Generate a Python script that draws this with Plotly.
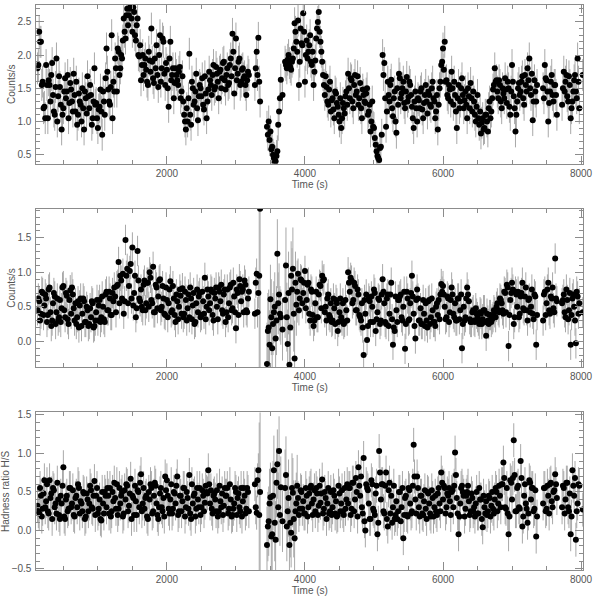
import plotly.graph_objects as go

# time axis: two interleaved sets of bins (A at 125+25k s, B at 137.5+25k s)
time_a = [125 + 25 * i for i in range(320)]
time_b = [137.5 + 25 * i for i in range(320)]

total_rate_a = [
    1.80, 2.35, 2.20, 1.60, 1.22, 1.85, 1.05, 1.55, 1.70, 1.40, 1.10, 1.95, 1.38, 1.52, 0.88, 1.20, 1.65, 1.45, 1.05, 1.58,
    1.30, 1.72, 1.15, 0.95, 1.42, 1.25, 1.50, 0.88, 1.35, 1.68, 1.20, 1.40, 1.05, 1.80, 1.28, 0.90, 1.22, 1.15, 1.45, 1.10,
    2.10, 1.48, 1.25, 2.30, 1.60, 1.95, 1.45, 2.05, 1.80, 1.95, 2.55, 2.25, 2.70, 2.60, 2.75, 2.35, 2.65, 2.22, 2.55, 1.98,
    1.62, 2.00, 1.85, 1.78, 1.55, 1.92, 2.40, 1.65, 1.95, 2.15, 1.52, 2.30, 1.80, 2.20, 1.55, 1.78, 1.22, 2.20, 1.70, 1.35,
    1.80, 1.62, 1.75, 1.35, 1.68, 1.10, 0.88, 1.00, 2.02, 0.95, 1.50, 1.30, 1.72, 1.02, 1.55, 1.38, 1.25, 1.68, 1.05, 1.48,
    1.62, 1.40, 1.85, 1.52, 1.72, 1.35, 1.78, 1.65, 1.90, 1.48, 1.80, 1.58, 1.95, 2.32, 1.42, 2.25, 1.72, 1.95, 1.60, 1.80,
    1.68, 1.40, 1.75, None, None, None, 1.55, 2.05, 2.26, 1.30, None, None, None, 0.92, 1.00, 0.85, 0.62, 0.45, 0.40, 0.55,
    1.15, 1.63, 1.40, None, 1.85, 1.93, 1.88, 1.78, 1.95, 2.48, 2.20, 2.52, 1.90, 2.18, 2.63, 1.60, 2.22, 2.05, 2.30, 1.85,
    1.55, 1.92, 2.40, 2.65, 2.20, 1.90, 1.55, 1.68, 1.30, 1.48, 1.15, 1.35, 1.05, 1.42, 1.22, 1.00, 0.90, 1.28, 1.12, 1.45,
    1.72, 1.35, 1.62, 1.20, 1.70, 1.45, 1.25, 1.58, 1.05, 1.40, 1.28, 1.50, 1.15, 0.85, 1.30, 0.90, 0.65, 0.48, 0.42, 0.62,
    2.00, 1.88, 0.92, 1.60, 1.30, 1.63, 1.08, 1.45, 0.83, 1.25, 1.65, 1.42, 1.60, 1.20, 1.67, 1.37, 1.55, 1.22, 0.90, 1.45,
    1.00, 1.32, 1.45, 1.18, 1.28, 1.55, 1.12, 1.40, 1.22, 1.60, 1.30, 1.15, 0.88, 1.50, 1.85, 2.10, 2.20, 1.62, 1.35, 1.48,
    1.75, 1.25, 1.40, 0.90, 1.55, 1.30, 1.65, 1.20, 1.45, 1.05, 1.38, 1.58, 1.15, 1.30, 1.00, 1.40, 0.95, 0.82, 1.05, 0.90,
    1.10, 0.85, 1.30, 1.15, 1.48, 1.80, 1.62, 1.35, 1.55, 1.20, 1.42, 1.65, 1.28, 1.50, 1.10, 1.85, 1.38, 0.85, 1.30, 1.58,
    1.45, 1.68, 1.25, 1.55, 1.80, 1.95, 1.40, 1.02, 1.62, 1.30, None, None, None, 1.50, 1.85, 1.62, 1.00, 1.45, 1.70, 1.30,
    1.55, 1.10, None, None, 1.25, 1.75, 1.60, 1.38, 1.68, 1.05, 1.30, 1.62, 1.45, 1.95, 1.20, None, 1.70, None, None, None,
]
total_rate_b = [
    1.85, 2.20, 1.55, 1.20, 1.05, 1.55, 1.62, 1.30, 1.88, 1.15, 1.52, 1.00, 1.68, 1.25, 1.10, 1.45, 1.35, 1.70, 1.28, 1.48,
    1.15, 1.40, 1.60, 1.10, 1.30, 1.00, 1.20, 1.45, 1.12, 1.38, 1.55, 0.95, 1.30, 1.25, 1.05, 1.18, 1.48, 0.80, 1.30, 1.65,
    1.75, 1.30, 1.52, 1.05, 1.45, 1.80, 2.10, 1.70, 2.00, 2.22, 2.35, 2.60, 2.45, 2.70, 2.55, 2.72, 2.30, 2.45, 2.00, 2.15,
    1.85, 1.70, 1.95, 1.60, 2.05, 1.75, 1.90, 1.58, 1.80, 1.70, 2.00, 1.60, 2.25, 1.72, 1.88, 1.50, 1.95, 1.62, 1.80, 1.58,
    1.70, 1.55, 1.82, 1.45, 1.30, 1.00, 1.20, 1.35, 1.10, 1.60, 1.25, 1.45, 1.20, 1.38, 1.50, 1.65, 1.18, 1.42, 1.30, 1.75,
    1.55, 1.70, 1.48, 1.82, 1.60, 1.75, 1.50, 1.88, 1.62, 1.70, 1.55, 1.85, 1.68, 2.05, 1.80, 1.62, 1.90, 1.55, 1.78, 1.65,
    1.55, 1.62, 1.70, None, None, None, 1.80, 1.70, 1.60, None, None, None, None, 0.80, 0.72, 0.58, 0.50, 0.38, 0.48, 0.95,
    1.35, None, None, 1.90, 1.80, 2.00, 1.82, 1.90, 2.10, 2.35, 2.05, 1.55, 2.40, 2.15, 2.35, 2.00, 1.95, 2.15, 1.90, 2.05,
    1.75, 2.25, 2.50, 2.35, 2.05, 1.70, 1.40, 1.52, 1.25, 1.60, 1.32, 1.18, 1.45, 1.28, 1.10, 1.35, 1.05, 1.20, 1.38, 1.25,
    1.50, 1.65, 1.30, 1.55, 1.40, 1.68, 1.35, 1.20, 1.48, 1.30, 1.42, 1.10, 1.25, 1.00, 0.92, 0.75, 0.55, 0.45, 0.60, 0.80,
    1.70, 1.35, 1.15, 1.40, 1.55, 1.20, 1.35, 1.00, 1.50, 1.72, 1.35, 1.50, 1.28, 1.45, 1.30, 1.60, 1.40, 1.05, 1.30, 1.20,
    1.35, 1.20, 1.50, 1.05, 1.40, 1.30, 1.45, 1.25, 1.50, 1.35, 1.05, 1.40, 1.25, 1.60, 1.90, 1.78, 1.60, 1.40, 1.55, 1.30,
    1.50, 1.60, 1.15, 1.35, 1.20, 1.50, 1.40, 1.32, 1.25, 1.50, 1.20, 1.35, 1.45, 1.10, 1.22, 1.05, 1.15, 0.98, 0.88, 1.10,
    1.00, 1.20, 1.05, 1.35, 1.55, 1.60, 1.45, 1.62, 1.30, 1.50, 1.35, 1.48, 1.60, 1.22, 1.45, 1.60, 1.20, 1.10, 1.50, 1.40,
    1.60, 1.35, 1.70, 1.45, 1.62, 1.50, 1.72, 1.30, 1.45, 1.55, None, None, None, 1.35, 1.65, 1.45, 1.28, 1.60, 1.40, 1.55,
    1.40, None, None, None, 1.50, 1.45, 1.70, 1.30, 1.55, 1.20, 1.45, 1.70, 1.35, 1.60, None, None, None, None, None, None,
]

hard_rate_a = [
    0.45, 0.58, 0.40, 0.70, 0.52, 0.62, 0.38, 0.78, 0.22, 0.55, 0.65, 0.42, 0.30, 0.60, 0.48, 0.80, 0.35, 0.66, 0.25, 0.74,
    0.78, 0.48, 0.55, 0.35, 0.20, 0.62, 0.40, 0.58, 0.28, 0.45, 0.25, 0.35, 0.55, 0.22, 0.42, 0.30, 0.60, 0.35, 0.50, 0.28,
    0.72, 0.45, 0.62, 0.38, 0.58, 0.65, 0.80, 1.15, 0.95, 0.62, 0.40, 1.47, 1.05, 0.80, 1.12, 1.36, 0.70, 0.35, 1.31, 0.62,
    0.75, 0.45, 0.88, 0.55, 0.85, 1.00, 0.60, 1.08, 0.42, 0.78, 0.65, 0.90, 0.50, 0.62, 0.38, 0.60, 0.55, 0.87, 0.45, 0.62,
    0.28, 0.58, 0.50, 0.66, 0.77, 0.40, 0.60, 0.48, 0.35, 0.62, 0.52, 0.25, 0.55, 0.42, 0.70, 0.38, 0.58, 0.92, 0.50, 0.65,
    0.55, 0.72, 0.30, 0.62, 0.50, 0.78, 0.58, 0.45, 0.68, 0.28, 0.75, 0.55, 0.82, 0.48, 0.65, 0.19, 0.70, 0.90, 0.58, 0.75,
    0.88, 0.45, 0.62, None, None, None, 0.40, 0.98, 0.70, 1.92, None, None, None, -0.33, 0.20, 0.61, -0.10, 0.42, 0.04, 1.27,
    0.68, 0.35, 0.17, None, 1.10, -0.04, -0.34, 0.95, 1.05, -0.25, 0.53, 0.98, 0.62, 0.88, 0.70, 1.02, 0.60, 0.85, 0.30, 0.72,
    0.22, 0.55, 0.35, 0.68, 0.80, 0.95, 0.90, 0.50, 0.62, 0.38, 0.55, 0.30, 0.48, 0.60, 0.15, 0.42, 0.35, 0.55, 0.28, 0.45,
    1.00, 0.72, 0.88, 0.60, 0.80, 0.45, 0.68, 0.35, 0.55, -0.20, 0.40, 0.02, 0.62, 0.28, 0.50, 0.75, 0.15, 0.42, 0.60, 0.30,
    0.90, 0.55, 0.25, 0.68, 0.40, 0.85, -0.05, 0.15, 0.45, 0.60, 0.65, 0.35, 0.50, -0.11, 0.72, 0.30, 0.55, 0.95, 0.40, 0.04,
    0.75, 0.30, 0.48, 0.25, 0.40, 0.55, 0.20, 0.60, 0.35, 0.45, 0.28, 0.50, 0.38, 0.32, 0.83, 0.80, 0.50, 0.35, 0.62, 0.42,
    0.78, 0.40, 0.55, 0.30, 0.62, 0.45, -0.10, 0.50, 0.35, 0.78, 0.58, 0.28, 0.42, 0.30, 0.48, 0.35, 0.25, 0.40, 0.32, 0.45,
    0.08, 0.30, 0.38, 0.28, 0.35, 0.42, 0.50, 0.45, 0.62, 0.55, 0.40, 0.70, 0.82, -0.07, 0.60, 0.85, 0.25, 0.72, 0.50, 0.35,
    0.65, 0.85, 0.45, 0.78, 0.30, 0.62, 0.50, 0.40, 0.68, -0.05, None, None, None, 0.30, 0.72, 0.55, 0.85, 0.40, 0.62, 0.48,
    1.20, 0.58, None, None, 0.55, 0.68, 0.35, 0.60, 0.45, -0.05, 0.62, 0.50, -0.03, 0.65, 0.55, None, 0.42, None, None, None,
]
hard_rate_b = [
    0.62, 0.30, 0.72, 0.38, 0.68, 0.28, 0.75, 0.42, 0.30, 0.70, 0.25, 0.62, 0.35, 0.28, 0.78, 0.45, 0.70, 0.32, 0.60, 0.40,
    0.68, 0.30, 0.25, 0.58, 0.52, 0.22, 0.62, 0.28, 0.50, 0.22, 0.48, 0.58, 0.20, 0.30, 0.60, 0.52, 0.28, 0.65, 0.32, 0.68,
    0.45, 0.72, 0.38, 0.70, 0.78, 0.42, 0.82, 0.55, 0.88, 0.98, 0.58, 0.95, 0.55, 1.02, 0.62, 0.52, 0.95, 0.48, 0.88, 0.58,
    0.50, 0.82, 0.45, 0.85, 0.50, 0.92, 0.55, 0.42, 0.82, 0.48, 0.88, 0.45, 0.80, 0.40, 0.78, 0.35, 0.75, 0.42, 0.80, 0.38,
    0.68, 0.32, 0.75, 0.40, 0.35, 0.72, 0.30, 0.68, 0.78, 0.32, 0.70, 0.28, 0.75, 0.65, 0.35, 0.72, 0.40, 0.32, 0.75, 0.45,
    0.75, 0.38, 0.70, 0.78, 0.32, 0.72, 0.82, 0.40, 0.75, 0.42, 0.35, 0.78, 0.45, 0.85, 0.42, 0.75, 0.38, 0.80, 0.72, 0.42,
    0.82, 0.42, 0.72, None, None, None, 0.85, 0.42, 0.95, None, None, None, None, 0.15, -0.05, 0.35, 0.25, 0.50, 0.30, 0.55,
    0.40, None, None, 0.60, 0.35, 0.70, 0.20, 0.75, 0.40, 0.85, 0.72, 0.45, 0.90, 0.55, 0.85, 0.48, 0.82, 0.40, 0.75, 0.38,
    0.30, 0.72, 0.35, 0.82, 0.48, 0.88, 0.42, 0.30, 0.68, 0.35, 0.28, 0.62, 0.25, 0.55, 0.28, 0.62, 0.30, 0.25, 0.60, 0.30,
    0.85, 0.92, 0.55, 0.85, 0.45, 0.75, 0.38, 0.30, 0.20, 0.60, 0.68, 0.22, 0.58, 0.65, 0.28, 0.70, 0.32, 0.62, 0.25, 0.68,
    0.72, 0.28, 0.62, 0.22, 0.68, 0.32, 0.20, 0.65, 0.28, 0.60, 0.68, 0.30, 0.72, 0.25, 0.62, 0.32, 0.70, 0.65, 0.22, 0.60,
    0.62, 0.30, 0.25, 0.60, 0.22, 0.30, 0.58, 0.25, 0.62, 0.28, 0.22, 0.55, 0.60, 0.68, 0.72, 0.68, 0.32, 0.65, 0.28, 0.60,
    0.68, 0.35, 0.30, 0.62, 0.32, 0.68, 0.25, 0.30, 0.62, 0.68, 0.32, 0.28, 0.45, 0.28, 0.40, 0.30, 0.42, 0.25, 0.45, 0.28,
    0.40, 0.25, 0.38, 0.32, 0.45, 0.35, 0.55, 0.42, 0.60, 0.45, 0.72, 0.42, 0.78, 0.38, 0.70, 0.75, 0.35, 0.68, 0.72, 0.40,
    0.70, 0.48, 0.65, 0.45, 0.60, 0.42, 0.75, 0.32, 0.65, 0.38, None, None, None, 0.68, 0.38, 0.75, 0.45, 0.65, 0.78, 0.42,
    0.62, None, None, None, 0.60, 0.42, 0.75, 0.32, 0.70, 0.38, 0.68, 0.30, 0.72, 0.40, None, None, None, None, None, None,
]

hardness_a = [
    0.32, 0.22, 0.45, 0.28, 0.65, 0.38, 0.25, 0.65, 0.48, 0.55, 0.30, 0.22, 0.40, 0.15, 0.35, 0.82, 0.15, 0.45, 0.28, 0.55,
    0.35, 0.20, 0.42, 0.30, 0.55, 0.38, 0.25, 0.48, 0.18, 0.40, 0.35, 0.52, 0.28, 0.64, 0.45, 0.22, 0.40, 0.13, 0.35, 0.50,
    0.30, 0.45, 0.55, 0.25, 0.38, 0.42, 0.60, 0.28, 0.35, 0.50, 0.22, 0.40, 0.58, 0.32, 0.67, 0.45, 0.20, 0.38, 0.52, 0.30,
    0.73, 0.35, 0.28, 0.45, 0.15, 0.40, 0.55, 0.25, 0.62, 0.35, 0.15, 0.48, 0.30, 0.42, 0.70, 0.65, 0.28, 0.40, 0.22, 0.50,
    0.35, 0.70, 0.25, 0.45, 0.38, 0.55, 0.30, 0.42, 0.72, 0.15, 0.35, 0.48, 0.28, 0.40, 0.55, 0.30, 0.45, 0.36, 0.50, 0.78,
    0.35, 0.28, 0.45, 0.40, 0.52, 0.25, 0.38, 0.48, 0.32, 0.45, 0.55, 0.28, 0.40, 0.20, 0.35, 0.50, 0.42, 0.30, 0.55, 0.38,
    0.45, 0.28, 0.50, None, None, None, 0.60, 0.23, 0.78, 0.50, None, None, None, -0.19, 0.12, 0.43, -0.05, 0.78, -0.12, 0.86,
    1.03, 0.56, 0.12, None, 0.72, 0.25, -0.19, -0.03, 0.49, -0.10, 0.35, 0.42, 0.28, 0.50, 0.38, 0.22, 0.45, 0.30, 0.55, 0.35,
    0.40, 0.25, 0.48, 0.32, 0.36, 0.66, 0.28, 0.42, 0.35, 0.22, 0.50, 0.30, 0.45, 0.38, 0.20, 0.48, 0.35, 0.25, 0.55, 0.40,
    0.35, 0.55, 0.28, 0.62, 0.40, 0.50, 0.82, 0.45, 0.30, 0.94, 0.00, 0.55, 0.35, 0.15, 0.60, 0.25, 0.48, -0.05, 1.03, 0.40,
    0.60, 0.22, 0.75, 0.05, 0.62, 0.45, 0.30, 0.15, 0.38, 0.25, 0.50, 0.30, -0.10, 0.42, 0.20, 0.55, 0.35, 0.25, 1.11, 0.40,
    0.70, 0.30, 0.45, 0.22, 0.38, 0.28, 0.50, 0.35, 0.18, 0.42, 0.30, 0.25, 0.48, 0.35, 0.75, 0.40, 0.55, 0.30, 0.45, 0.38,
    0.50, 0.30, 1.01, 0.42, -0.05, 0.35, 0.58, 0.45, 0.28, 0.50, 0.38, 0.25, 0.42, 0.30, 0.35, 0.22, 0.55, 0.40, 0.04, 0.30,
    0.38, 0.25, 0.42, 0.32, 0.28, 0.40, 0.50, 0.35, 0.45, 0.60, 0.88, 0.30, 0.55, -0.05, 0.65, 0.40, 1.17, 0.25, 0.55, 0.30,
    0.90, 0.05, 0.45, 0.35, 0.10, 0.65, 0.40, 0.55, 0.28, -0.08, None, None, None, 0.35, 0.55, 0.28, 0.45, 0.60, 0.38, 0.50,
    0.73, 0.42, None, None, 0.30, 0.55, 0.40, 0.62, 0.25, -0.05, 0.78, 0.45, -0.12, 0.35, 0.58, None, 0.27, None, None, None,
]
hardness_b = [
    0.25, 0.55, 0.18, 0.48, 0.30, 0.60, 0.22, 0.42, 0.15, 0.52, 0.35, 0.62, 0.20, 0.45, 0.58, 0.18, 0.40, 0.25, 0.55, 0.30,
    0.52, 0.18, 0.45, 0.60, 0.22, 0.35, 0.50, 0.15, 0.48, 0.25, 0.58, 0.30, 0.45, 0.20, 0.55, 0.28, 0.15, 0.50, 0.22, 0.45,
    0.55, 0.22, 0.18, 0.50, 0.62, 0.28, 0.20, 0.55, 0.45, 0.18, 0.52, 0.60, 0.25, 0.48, 0.15, 0.42, 0.58, 0.20, 0.50, 0.62,
    0.25, 0.55, 0.42, 0.18, 0.50, 0.60, 0.22, 0.45, 0.58, 0.20, 0.30, 0.55, 0.25, 0.18, 0.52, 0.45, 0.22, 0.60, 0.28, 0.48,
    0.58, 0.20, 0.45, 0.25, 0.55, 0.18, 0.50, 0.28, 0.22, 0.60, 0.45, 0.18, 0.55, 0.30, 0.20, 0.52, 0.25, 0.58, 0.48, 0.60,
    0.52, 0.22, 0.48, 0.25, 0.18, 0.58, 0.30, 0.20, 0.55, 0.45, 0.22, 0.60, 0.18, 0.28, 0.55, 0.20, 0.48, 0.25, 0.18, 0.55,
    0.22, 0.55, 0.25, None, None, None, 0.30, 0.65, 0.20, None, None, None, None, 0.05, 0.35, -0.08, 0.45, 0.10, 0.62, 0.30,
    0.20, None, None, 0.55, 0.05, 0.42, 0.10, 0.55, 0.15, 0.25, 0.58, 0.20, 0.52, 0.28, 0.22, 0.55, 0.18, 0.48, 0.58, 0.20,
    0.52, 0.55, 0.20, 0.58, 0.48, 0.22, 0.50, 0.15, 0.55, 0.25, 0.20, 0.52, 0.22, 0.18, 0.58, 0.25, 0.52, 0.20, 0.28, 0.60,
    0.55, 0.20, 0.62, 0.25, 0.68, 0.18, 0.58, 0.70, 0.22, 0.12, 0.60, 0.52, 0.15, 0.65, 0.28, 0.20, 0.58, 0.10, 0.75, 0.60,
    0.25, 0.58, 0.15, 0.52, 0.22, 0.10, 0.58, 0.20, 0.15, 0.50, 0.12, 0.55, 0.20, 0.45, 0.18, 0.52, 0.22, 0.58, 0.70, 0.22,
    0.55, 0.18, 0.45, 0.20, 0.52, 0.15, 0.48, 0.22, 0.52, 0.18, 0.45, 0.20, 0.55, 0.25, 0.62, 0.58, 0.22, 0.48, 0.55, 0.20,
    0.52, 0.58, 0.72, 0.22, 0.18, 0.55, 0.50, 0.18, 0.45, 0.58, 0.20, 0.48, 0.25, 0.18, 0.50, 0.22, 0.40, 0.15, 0.45, 0.22,
    0.20, 0.45, 0.18, 0.50, 0.22, 0.55, 0.25, 0.58, 0.30, 0.60, 0.68, 0.28, 0.22, 0.18, 0.62, 0.68, 0.72, 0.25, 0.58, 0.28,
    0.68, 0.18, 0.60, 0.28, 0.22, 0.62, 0.55, 0.25, 0.52, 0.18, None, None, None, 0.55, 0.25, 0.58, 0.22, 0.62, 0.30, 0.52,
    0.60, None, None, None, 0.58, 0.22, 0.62, 0.30, 0.48, 0.18, 0.58, 0.68, 0.25, 0.60, None, None, None, None, None, None,
]

# typical 1-sigma error bar half-lengths
err_total = 0.24
err_hard = 0.22
err_ratio = 0.22
# A-bins around the dip with much longer error bars
wide_t = [3350, 3450, 3475, 3500, 3525, 3550, 3575, 3600, 3625, 3650, 3675,
          3725, 3750, 3775, 3800, 3825, 3850, 3875]
wide_hard = [2.40, 0.60, 0.55, 0.50, 0.55, 0.45, 0.50, 0.50, 0.45, 0.40, 0.45,
             0.55, 0.50, 0.60, 0.50, 0.60, 0.55, 0.45]
wide_ratio = [1.20, 0.50, 0.45, 0.45, 0.50, 0.45, 0.50, 0.45, 0.45, 0.40, 0.40,
              0.50, 0.45, 0.50, 0.45, 0.45, 0.50, 0.40]

x_ticks = [2000, 4000, 6000, 8000]
y_ticks_1 = [0.5, 1.0, 1.5, 2.0, 2.5]
y_ticks_2 = [0.0, 0.5, 1.0, 1.5]
y_ticks_3 = [-0.5, 0.0, 0.5, 1.0, 1.5]


def errs_a(base, wide):
    lookup = dict(zip(wide_t, wide))
    return [lookup.get(t, base) for t in time_a]


def errs_b(base, wide):
    lookup = dict(zip(wide_t, wide))
    return [lookup.get(t + 12.5, lookup.get(t - 12.5, base)) for t in time_b]


time_all = time_a + time_b
series = [
    (total_rate_a + total_rate_b, [err_total] * 640, "x", "y"),
    (hard_rate_a + hard_rate_b, errs_a(err_hard, wide_hard) + errs_b(err_hard, wide_hard), "x2", "y2"),
    (hardness_a + hardness_b, errs_a(err_ratio, wide_ratio) + errs_b(err_ratio, wide_ratio), "x3", "y3"),
]

fig = go.Figure()
for vals, ee, xa, ya in series:
    fig.add_trace(go.Scatter(
        x=time_all, y=vals, mode="markers", xaxis=xa, yaxis=ya,
        marker=dict(color="black", size=6, line=dict(width=0)),
        error_y=dict(type="data", array=ee, color="#a8a8a8", thickness=1, width=0),
        showlegend=False, hoverinfo="skip",
    ))

font = dict(family="Liberation Sans, DejaVu Sans, sans-serif", size=10, color="#555555")
axcol = "#8c8c8c"


def xaxis(anchor):
    return dict(
        domain=[37 / 600, 592 / 600], anchor=anchor, range=[110, 8030],
        tickvals=x_ticks, ticktext=[str(v) for v in x_ticks],
        ticks="inside", ticklen=8, tickcolor=axcol, tickwidth=1,
        minor=dict(dtick=500, tick0=0, ticks="inside", ticklen=4, tickcolor=axcol),
        showline=True, linecolor=axcol, linewidth=1, mirror="allticks",
        showgrid=False, zeroline=False, tickfont=font, ticklabeloverflow="allow",
        title=dict(text="Time (s)", font=font, standoff=2),
    )


def yaxis(anchor, dom, rng, ticks, title):
    return dict(
        domain=dom, anchor=anchor, range=rng,
        tickvals=ticks, ticktext=[("%.1f" % v).replace("-", "\u2212") for v in ticks],
        ticks="inside", ticklen=8, tickcolor=axcol, tickwidth=1,
        minor=dict(dtick=0.1, tick0=0, ticks="inside", ticklen=4, tickcolor=axcol),
        showline=True, linecolor=axcol, linewidth=1, mirror="allticks",
        showgrid=False, zeroline=False, tickfont=font, ticklabelstandoff=2,
        title=dict(text=title, font=font, standoff=0),
    )


fig.update_layout(
    width=600, height=600,
    margin=dict(l=0, r=0, t=0, b=0),
    paper_bgcolor="white", plot_bgcolor="white",
    xaxis=xaxis("y"),
    xaxis2=xaxis("y2"),
    xaxis3=xaxis("y3"),
    yaxis=yaxis("x", [1 - 162.5 / 600, 1 - 2 / 600], [0.365, 2.755], y_ticks_1, "Counts/s"),
    yaxis2=yaxis("x2", [1 - 368.3 / 600, 1 - 208.3 / 600], [-0.373, 1.92], y_ticks_2, "Counts/s"),
    yaxis3=yaxis("x3", [1 - 574 / 600, 1 - 414.3 / 600], [-0.517, 1.53], y_ticks_3, "Hadness ratio H/S"),
)

fig.write_html(
    "out.html",
    config={"displayModeBar": False},
    post_script="document.body.style.margin='0px';document.body.style.overflow='hidden';",
)
